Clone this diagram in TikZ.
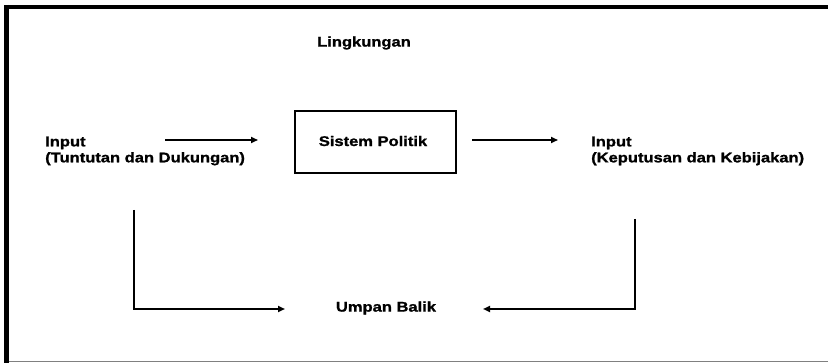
\documentclass[tikz,border=0pt]{standalone}
\usepackage{fontspec}
\setmainfont{Liberation Sans}
\newfontfamily\dfont[FakeStretch=1.18,FakeBold=1.2]{Liberation Sans}
\usetikzlibrary{arrows.meta}
\tikzset{
  lbl/.style={font=\dfont\bfseries\fontsize{14}{16}\selectfont, inner sep=0pt, text=black},
  sysbox/.style={draw=black, line width=2pt, minimum width=161pt, minimum height=62pt, inner sep=0pt},
  conn/.style={line width=1.6pt, -{Triangle[length=7pt,width=6pt]}},
  fbline/.style={line width=1.8pt, -{Triangle[length=7pt,width=6pt]}},
}
\begin{document}
\begin{tikzpicture}[x=1pt,y=-1pt]
\useasboundingbox (0,0) rectangle (828,363);
% frame
\draw[line width=4pt, black] (4,7) -- (828,7);
\draw[line width=5pt, black] (6.5,5) -- (6.5,363);
\draw[line width=1.5pt, black!50] (9,361.5) -- (828,361.5);
% nodes
\node[lbl] (ling) at (364,43) {Lingkungan};
\node[lbl, align=left, anchor=west] (inL) at (45,151) {Input\\(Tuntutan dan Dukungan)};
\node[lbl, sysbox] (sys) at (375.5,142) {};
\node[lbl] (sysT) at (373,141) {Sistem Politik};
\node[lbl, align=left, anchor=west] (outR) at (591,151) {Input\\(Keputusan dan Kebijakan)};
\node[lbl] (fb) at (386,308) {Umpan Balik};
% coordinates
\coordinate (a1s) at (165,140);
\coordinate (a1e) at (258,140);
\coordinate (a2s) at (472,140);
\coordinate (a2e) at (558,140);
\coordinate (l1) at (134,210);
\coordinate (l2) at (134,309);
\coordinate (l3) at (285,309);
\coordinate (r1) at (635,219);
\coordinate (r2) at (635,309);
\coordinate (r3) at (483,309);
% connectors
\draw[conn] (a1s) -- (a1e);
\draw[conn] (a2s) -- (a2e);
\draw[fbline] (l1) -- (l2) -- (l3);
\draw[fbline] (r1) -- (r2) -- (r3);
\end{tikzpicture}
\end{document}
